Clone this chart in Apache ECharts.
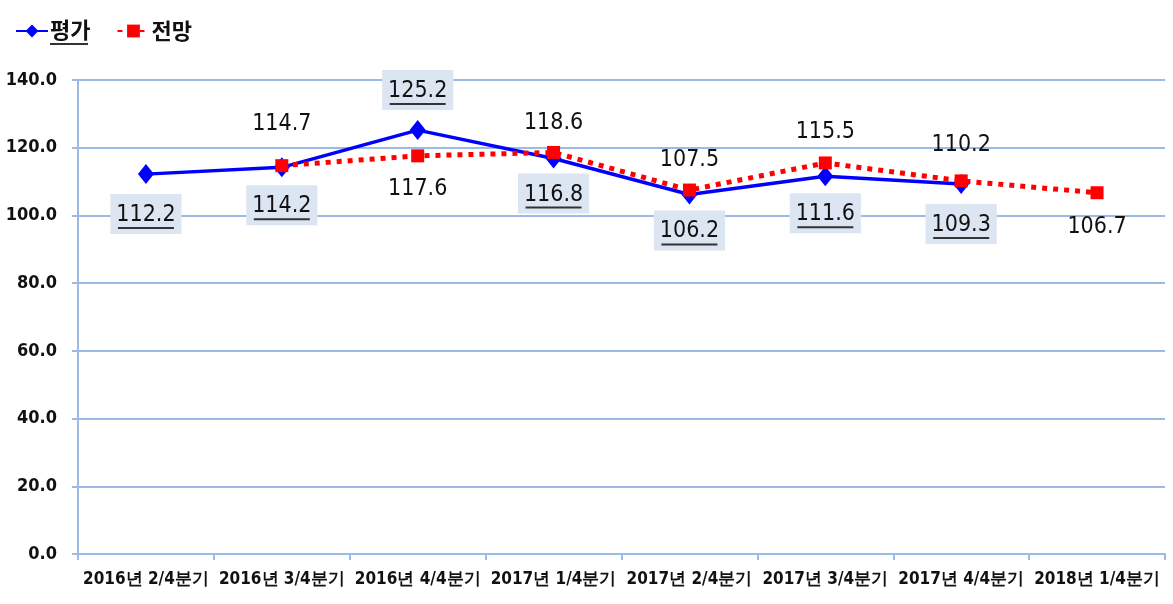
<!DOCTYPE html>
<html><head><meta charset="utf-8">
<script src="https://cdn.jsdelivr.net/npm/echarts@6/dist/echarts.min.js"></script>
<style>html,body{margin:0;padding:0;background:#fff}#c{width:1173px;height:604px}</style>
</head><body><div id="c"></div>
<script>
const categories = ['2016년 2/4분기','2016년 3/4분기','2016년 4/4분기','2017년 1/4분기','2017년 2/4분기','2017년 3/4분기','2017년 4/4분기','2018년 1/4분기'];
const evalValues = [112.2, 114.2, 125.2, 116.8, 106.2, 111.6, 109.3, null];
const outlookValues = [null, 114.7, 117.6, 118.6, 107.5, 115.5, 110.2, 106.7];
// label placement (side of the point, and gap in px)
const evalLabelPos = ['bottom','bottom','top','bottom','bottom','bottom','bottom','bottom'];
const evalLabelGap = [10, 8, 10, 5, 6, 7, 10, 0];
const outlookLabelPos = ['top','top','bottom','top','top','top','top','bottom'];
const outlookLabelGap = [0, 24, 15, 11, 12, 13, 18, 16];
const yTicks = [0, 20, 40, 60, 80, 100, 120, 140];

const numFont = "'DejaVu Sans Condensed','Liberation Sans Narrow',sans-serif";
const chart = echarts.init(document.getElementById('c'));

const evalData = evalValues.map((v, i) => v == null ? null : {
  value: v,
  label: { position: evalLabelPos[i], distance: evalLabelGap[i] }
});
const outlookData = outlookValues.map((v, i) => v == null ? null : {
  value: v,
  label: { position: outlookLabelPos[i], distance: outlookLabelGap[i] }
});

chart.setOption({
  backgroundColor: '#fff',
  animation: false,
  legend: {
    left: 10, top: 14,
    itemWidth: 32, itemHeight: 16, itemGap: 26,
    formatter: n => n === '평가' ? '{a|' + n + '}\n{u|}' : '{a|' + n + '}',
    textStyle: {
      fontFamily: "'Noto Sans CJK KR',sans-serif", fontSize: 22, fontWeight: 'bold', color: '#111', padding: [0, 0, 0, -3],
      rich: {
        a: { fontFamily: "'Noto Sans CJK KR',sans-serif", fontSize: 22, fontWeight: 'bold', color: '#111', lineHeight: 26 },
        u: { width: 38, height: 2, backgroundColor: '#333' }
      }
    },
    data: ['평가', '전망']
  },
  grid: { left: 78, right: 8, top: 80, bottom: 50 },
  xAxis: {
    type: 'category', data: categories, boundaryGap: true,
    axisLine: { lineStyle: { color: '#9bbbe6', width: 2 } },
    axisTick: { show: true, length: 6, lineStyle: { color: '#9bbbe6', width: 2 } },
    axisLabel: { color: '#111', fontFamily: numFont, fontSize: 17, fontWeight: 'bold', margin: 17, interval: 0 }
  },
  yAxis: {
    type: 'value', min: 0, max: 140, interval: 20,
    axisLine: { show: true, lineStyle: { color: '#9bbbe6', width: 2 } },
    axisTick: { show: true, length: 6, lineStyle: { color: '#9bbbe6', width: 2 } },
    splitLine: { lineStyle: { color: '#9bbbe6', width: 2 } },
    axisLabel: { color: '#111', fontFamily: numFont, fontSize: 18, fontWeight: 'bold', margin: 21,
      formatter: v => yTicks.includes(v) ? v.toFixed(1) : '' }
  },
  series: [
    {
      name: '평가', type: 'line', data: evalData, connectNulls: false,
      symbol: 'diamond', symbolSize: [16, 20],
      lineStyle: { color: '#0000ff', width: 3.5 },
      itemStyle: { color: '#0000ff' },
      z: 3,
      label: {
        show: true,
        formatter: p => '{v|' + p.value.toFixed(1) + '}\n{u|}',
        backgroundColor: '#dce6f2',
        padding: [9, 6, 5, 6],
        rich: {
          v: { fontFamily: numFont, fontSize: 23, color: '#111', lineHeight: 24, align: 'center' },
          u: { width: 56, height: 2, backgroundColor: '#333', align: 'center' }
        }
      }
    },
    {
      name: '전망', type: 'line', data: outlookData, connectNulls: false,
      symbol: 'rect', symbolSize: 13,
      lineStyle: { color: '#ff0000', width: 5, type: [5, 6] },
      itemStyle: { color: '#ff0000' },
      z: 4,
      label: {
        show: true,
        formatter: p => p.value.toFixed(1),
        fontFamily: numFont, fontSize: 23, color: '#111'
      }
    }
  ]
});
</script></body></html>
